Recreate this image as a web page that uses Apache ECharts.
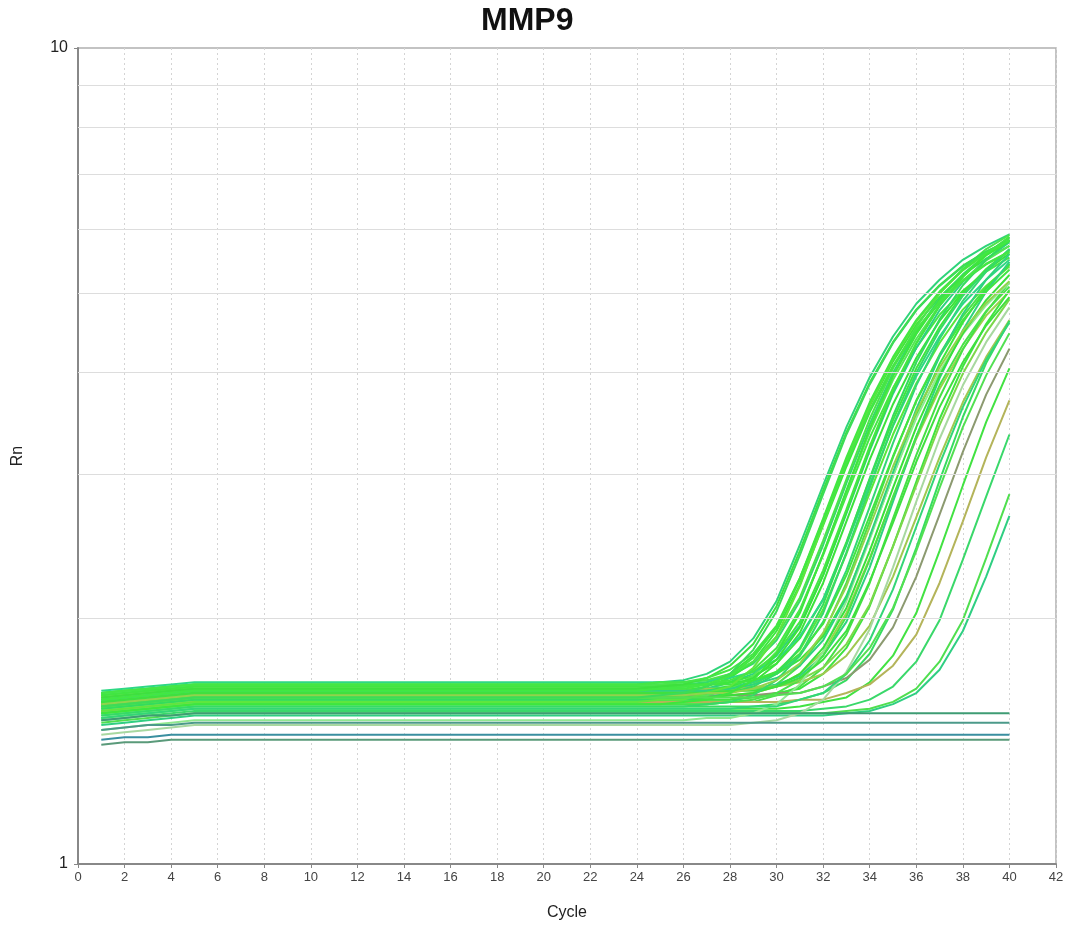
<!DOCTYPE html>
<html>
<head>
<meta charset="utf-8">
<title>MMP9 amplification plot</title>
<script src="https://cdn.jsdelivr.net/npm/echarts@6/dist/echarts.min.js"></script>
<style>
  html, body { margin: 0; padding: 0; background: #ffffff; }
  #chart { width: 1075px; height: 927px; }
</style>
</head>
<body>
<div id="chart"></div>
<script>
// Amplification cycles (x axis)
const cycles = [1,2,3,4,5,6,7,8,9,10,11,12,13,14,15,16,17,18,19,20,
                21,22,23,24,25,26,27,28,29,30,31,32,33,34,35,36,37,38,39,40];

// Tick values
const xTicks = [0,2,4,6,8,10,12,14,16,18,20,22,24,26,28,30,32,34,36,38,40,42];
const rnGridLevels = [2,3,4,5,6,7,8,9];

// Rn per well, cycles 1..40
const rn01 = [1.62,1.63,1.64,1.65,1.66,1.66,1.66,1.66,1.66,1.66,
              1.66,1.66,1.66,1.66,1.66,1.66,1.66,1.66,1.66,1.66,
              1.66,1.66,1.66,1.66,1.67,1.68,1.71,1.77,1.89,2.10,
              2.46,2.91,3.43,3.95,4.43,4.86,5.20,5.50,5.72,5.91];
const rn02 = [1.60,1.61,1.62,1.63,1.64,1.64,1.64,1.64,1.64,1.64,
              1.64,1.64,1.64,1.64,1.64,1.64,1.64,1.64,1.64,1.64,
              1.64,1.64,1.64,1.64,1.65,1.65,1.67,1.71,1.80,1.95,
              2.23,2.64,3.12,3.64,4.13,4.58,4.95,5.27,5.52,5.72];
const rn03 = [1.61,1.62,1.63,1.64,1.65,1.65,1.65,1.65,1.65,1.65,
              1.65,1.65,1.65,1.65,1.65,1.65,1.65,1.65,1.65,1.65,
              1.65,1.65,1.65,1.65,1.65,1.66,1.67,1.70,1.76,1.88,
              2.10,2.46,2.93,3.46,4.00,4.49,4.93,5.28,5.58,5.81];
const rn04 = [1.58,1.59,1.60,1.61,1.62,1.62,1.62,1.62,1.62,1.62,
              1.62,1.62,1.62,1.62,1.62,1.62,1.62,1.62,1.62,1.62,
              1.62,1.62,1.62,1.62,1.62,1.63,1.64,1.67,1.73,1.84,
              2.05,2.39,2.83,3.33,3.83,4.29,4.71,5.04,5.32,5.54];
const rn05 = [1.56,1.57,1.58,1.59,1.60,1.60,1.60,1.60,1.60,1.60,
              1.60,1.60,1.60,1.60,1.60,1.60,1.60,1.60,1.60,1.60,
              1.60,1.60,1.60,1.60,1.60,1.61,1.61,1.64,1.67,1.76,
              1.92,2.21,2.63,3.13,3.66,4.17,4.63,5.02,5.34,5.60];
const rn06 = [1.59,1.60,1.61,1.62,1.63,1.63,1.63,1.63,1.63,1.63,
              1.63,1.63,1.63,1.63,1.63,1.63,1.63,1.63,1.63,1.63,
              1.63,1.63,1.63,1.63,1.63,1.64,1.64,1.67,1.71,1.80,
              1.96,2.26,2.69,3.21,3.77,4.29,4.77,5.17,5.51,5.78];
const rn07 = [1.57,1.58,1.59,1.60,1.61,1.61,1.61,1.61,1.61,1.61,
              1.61,1.61,1.61,1.61,1.61,1.61,1.61,1.61,1.61,1.61,
              1.61,1.61,1.61,1.61,1.61,1.61,1.62,1.63,1.66,1.72,
              1.83,2.05,2.40,2.85,3.36,3.88,4.35,4.78,5.11,5.40];
const rn08 = [1.61,1.62,1.63,1.64,1.65,1.65,1.65,1.65,1.65,1.65,
              1.65,1.65,1.65,1.65,1.65,1.65,1.65,1.65,1.65,1.65,
              1.65,1.65,1.65,1.65,1.65,1.65,1.66,1.67,1.70,1.76,
              1.89,2.11,2.48,2.96,3.50,4.05,4.55,5.00,5.36,5.66];
const rn09 = [1.54,1.55,1.56,1.57,1.58,1.58,1.58,1.58,1.58,1.58,
              1.58,1.58,1.58,1.58,1.58,1.58,1.58,1.58,1.58,1.58,
              1.58,1.58,1.58,1.58,1.58,1.58,1.59,1.59,1.62,1.66,
              1.75,1.91,2.21,2.63,3.15,3.70,4.21,4.69,5.09,5.42];
const rn10 = [1.59,1.60,1.61,1.62,1.63,1.63,1.63,1.63,1.63,1.63,
              1.63,1.63,1.63,1.63,1.63,1.63,1.63,1.63,1.63,1.63,
              1.63,1.63,1.63,1.63,1.63,1.63,1.64,1.65,1.67,1.71,
              1.80,1.98,2.29,2.74,3.28,3.86,4.40,4.90,5.32,5.67];
const rn11 = [1.56,1.57,1.58,1.59,1.60,1.60,1.60,1.60,1.60,1.60,
              1.60,1.60,1.60,1.60,1.60,1.60,1.60,1.60,1.60,1.60,
              1.60,1.60,1.60,1.60,1.60,1.60,1.60,1.61,1.62,1.65,
              1.71,1.82,2.03,2.37,2.81,3.32,3.82,4.28,4.70,5.03];
const rn12 = [1.62,1.63,1.64,1.65,1.66,1.66,1.66,1.66,1.66,1.66,
              1.66,1.66,1.66,1.66,1.66,1.66,1.66,1.66,1.66,1.66,
              1.66,1.66,1.66,1.66,1.66,1.66,1.66,1.67,1.68,1.71,
              1.78,1.90,2.13,2.51,2.99,3.55,4.10,4.61,5.07,5.44];
const rn13 = [1.53,1.54,1.55,1.56,1.57,1.57,1.57,1.57,1.57,1.57,
              1.57,1.57,1.57,1.57,1.57,1.57,1.57,1.57,1.57,1.57,
              1.57,1.57,1.57,1.57,1.57,1.57,1.57,1.58,1.58,1.61,
              1.65,1.74,1.91,2.21,2.65,3.17,3.73,4.27,4.75,5.16];
const rn14 = [1.58,1.59,1.60,1.61,1.62,1.62,1.62,1.62,1.62,1.62,
              1.62,1.62,1.62,1.62,1.62,1.62,1.62,1.62,1.62,1.62,
              1.62,1.62,1.62,1.62,1.62,1.62,1.62,1.63,1.64,1.66,
              1.70,1.80,1.98,2.31,2.78,3.34,3.94,4.51,5.03,5.47];
const rn15 = [1.55,1.56,1.57,1.58,1.59,1.59,1.59,1.59,1.59,1.59,
              1.59,1.59,1.59,1.59,1.59,1.59,1.59,1.59,1.59,1.59,
              1.59,1.59,1.59,1.59,1.59,1.59,1.59,1.59,1.60,1.62,
              1.64,1.71,1.84,2.07,2.45,2.94,3.51,4.07,4.59,5.05];
const rn16 = [1.60,1.61,1.62,1.63,1.64,1.64,1.64,1.64,1.64,1.64,
              1.64,1.64,1.64,1.64,1.64,1.64,1.64,1.64,1.64,1.64,
              1.64,1.64,1.64,1.64,1.64,1.64,1.64,1.64,1.65,1.65,
              1.67,1.71,1.80,1.96,2.25,2.66,3.15,3.68,4.18,4.64];
const rn17 = [1.52,1.53,1.54,1.55,1.56,1.56,1.56,1.56,1.56,1.56,
              1.56,1.56,1.56,1.56,1.56,1.56,1.56,1.56,1.56,1.56,
              1.56,1.56,1.56,1.56,1.56,1.56,1.56,1.56,1.56,1.57,
              1.59,1.62,1.68,1.81,2.05,2.44,2.95,3.53,4.11,4.63];
const rn18 = [1.57,1.58,1.59,1.60,1.61,1.61,1.61,1.61,1.61,1.61,
              1.61,1.61,1.61,1.61,1.61,1.61,1.61,1.61,1.61,1.61,
              1.61,1.61,1.61,1.61,1.61,1.61,1.61,1.61,1.61,1.62,
              1.62,1.65,1.69,1.78,1.95,2.25,2.68,3.20,3.76,4.28];
const rn19 = [1.51,1.52,1.53,1.54,1.55,1.55,1.55,1.55,1.55,1.55,
              1.55,1.55,1.55,1.55,1.55,1.55,1.55,1.55,1.55,1.55,
              1.55,1.55,1.55,1.55,1.55,1.55,1.55,1.55,1.55,1.55,
              1.56,1.58,1.60,1.67,1.80,2.03,2.42,2.91,3.48,4.05];
const rn20 = [1.54,1.55,1.56,1.57,1.58,1.58,1.58,1.58,1.58,1.58,
              1.58,1.58,1.58,1.58,1.58,1.58,1.58,1.58,1.58,1.58,
              1.58,1.58,1.58,1.58,1.58,1.58,1.58,1.58,1.58,1.58,
              1.59,1.59,1.62,1.66,1.75,1.91,2.21,2.63,3.15,3.70];
const rn21 = [1.50,1.51,1.52,1.53,1.54,1.54,1.54,1.54,1.54,1.54,
              1.54,1.54,1.54,1.54,1.54,1.54,1.54,1.54,1.54,1.54,
              1.54,1.54,1.54,1.54,1.54,1.54,1.54,1.54,1.54,1.54,
              1.54,1.55,1.56,1.59,1.65,1.77,1.99,2.36,2.82,3.36];
const rn22 = [1.49,1.50,1.51,1.52,1.53,1.53,1.53,1.53,1.53,1.53,
              1.53,1.53,1.53,1.53,1.53,1.53,1.53,1.53,1.53,1.53,
              1.53,1.53,1.53,1.53,1.53,1.53,1.53,1.53,1.53,1.53,
              1.53,1.53,1.54,1.55,1.58,1.64,1.77,1.99,2.37,2.84];
const rn23 = [1.48,1.49,1.50,1.51,1.52,1.52,1.52,1.52,1.52,1.52,
              1.52,1.52,1.52,1.52,1.52,1.52,1.52,1.52,1.52,1.52,
              1.52,1.52,1.52,1.52,1.52,1.52,1.52,1.52,1.52,1.52,
              1.52,1.52,1.53,1.54,1.57,1.62,1.73,1.93,2.25,2.67];
const rn24 = [1.58,1.59,1.60,1.61,1.62,1.62,1.62,1.62,1.62,1.62,
              1.62,1.62,1.62,1.62,1.62,1.62,1.62,1.62,1.62,1.62,
              1.62,1.62,1.62,1.62,1.63,1.63,1.65,1.69,1.77,1.93,
              2.20,2.60,3.07,3.58,4.06,4.50,4.87,5.18,5.43,5.63];
const rn25 = [1.55,1.56,1.57,1.58,1.59,1.59,1.59,1.59,1.59,1.59,
              1.59,1.59,1.59,1.59,1.59,1.59,1.59,1.59,1.59,1.59,
              1.59,1.59,1.59,1.59,1.59,1.60,1.61,1.64,1.70,1.82,
              2.04,2.40,2.86,3.39,3.92,4.40,4.84,5.19,5.49,5.72];
const rn26 = [1.63,1.64,1.65,1.66,1.67,1.67,1.67,1.67,1.67,1.67,
              1.67,1.67,1.67,1.67,1.67,1.67,1.67,1.67,1.67,1.67,
              1.67,1.67,1.67,1.67,1.67,1.67,1.68,1.69,1.72,1.78,
              1.90,2.11,2.46,2.92,3.44,3.96,4.43,4.86,5.20,5.50];
const rn27 = [1.53,1.54,1.55,1.56,1.57,1.57,1.57,1.57,1.57,1.57,
              1.57,1.57,1.57,1.57,1.57,1.57,1.57,1.57,1.57,1.57,
              1.57,1.57,1.57,1.57,1.57,1.57,1.57,1.58,1.59,1.62,
              1.68,1.80,2.01,2.36,2.82,3.34,3.86,4.33,4.76,5.10];
const rn28 = [1.59,1.60,1.61,1.62,1.63,1.63,1.63,1.63,1.63,1.63,
              1.63,1.63,1.63,1.63,1.63,1.63,1.63,1.63,1.63,1.63,
              1.63,1.63,1.63,1.63,1.63,1.63,1.63,1.63,1.64,1.65,
              1.68,1.74,1.86,2.08,2.45,2.91,3.45,3.99,4.48,4.92];
const rn29 = [1.46,1.47,1.48,1.49,1.50,1.50,1.50,1.50,1.50,1.50,
              1.50,1.50,1.50,1.50,1.50,1.50,1.50,1.50,1.50,1.50,
              1.50,1.50,1.50,1.50,1.50,1.50,1.51,1.51,1.53,1.57,
              1.66,1.82,2.10,2.50,2.99,3.52,4.01,4.46,4.84,5.16];
const rn30 = [1.44,1.45,1.46,1.47,1.48,1.48,1.48,1.48,1.48,1.48,
              1.48,1.48,1.48,1.48,1.48,1.48,1.48,1.48,1.48,1.48,
              1.48,1.48,1.48,1.48,1.48,1.48,1.48,1.48,1.49,1.50,
              1.53,1.59,1.72,1.94,2.31,2.78,3.32,3.86,4.36,4.81];
const rn31 = [1.57,1.58,1.59,1.60,1.61,1.61,1.61,1.61,1.61,1.61,
              1.61,1.61,1.61,1.61,1.61,1.61,1.61,1.61,1.61,1.61,
              1.61,1.61,1.61,1.61,1.61,1.62,1.63,1.65,1.69,1.78,
              1.95,2.26,2.70,3.23,3.80,4.34,4.83,5.24,5.59,5.86];
const rn32 = [1.61,1.62,1.63,1.64,1.65,1.65,1.65,1.65,1.65,1.65,
              1.65,1.65,1.65,1.65,1.65,1.65,1.65,1.65,1.65,1.65,
              1.65,1.65,1.65,1.65,1.65,1.65,1.66,1.66,1.68,1.72,
              1.81,1.97,2.26,2.67,3.16,3.69,4.19,4.64,5.03,5.35];
const rn33 = [1.55,1.56,1.57,1.58,1.59,1.59,1.59,1.59,1.59,1.59,
              1.59,1.59,1.59,1.59,1.59,1.59,1.59,1.59,1.59,1.59,
              1.59,1.59,1.59,1.59,1.59,1.59,1.60,1.62,1.65,1.71,
              1.84,2.08,2.47,2.97,3.54,4.12,4.65,5.12,5.50,5.82];
const rn34 = [1.62,1.63,1.64,1.65,1.66,1.66,1.66,1.66,1.66,1.66,
              1.66,1.66,1.66,1.66,1.66,1.66,1.66,1.66,1.66,1.66,
              1.66,1.66,1.66,1.66,1.66,1.67,1.68,1.71,1.77,1.90,
              2.12,2.49,2.96,3.51,4.05,4.55,5.00,5.36,5.67,5.90];
const rn35 = [1.56,1.57,1.58,1.59,1.60,1.60,1.60,1.60,1.60,1.60,
              1.60,1.60,1.60,1.60,1.60,1.60,1.60,1.60,1.60,1.60,
              1.60,1.60,1.60,1.60,1.60,1.60,1.60,1.61,1.62,1.65,
              1.71,1.84,2.06,2.42,2.89,3.43,3.97,4.47,4.91,5.27];
const rn36 = [1.59,1.60,1.61,1.62,1.63,1.63,1.63,1.63,1.63,1.63,
              1.63,1.63,1.63,1.63,1.63,1.63,1.63,1.63,1.63,1.63,
              1.63,1.63,1.63,1.63,1.63,1.63,1.63,1.64,1.66,1.69,
              1.75,1.88,2.12,2.52,3.02,3.61,4.19,4.72,5.20,5.59];
const rn37 = [1.54,1.55,1.56,1.57,1.58,1.58,1.58,1.58,1.58,1.58,
              1.58,1.58,1.58,1.58,1.58,1.58,1.58,1.58,1.58,1.58,
              1.58,1.58,1.58,1.58,1.59,1.59,1.62,1.65,1.74,1.90,
              2.19,2.61,3.11,3.65,4.16,4.62,5.01,5.34,5.60,5.81];
const rn38 = [1.58,1.59,1.60,1.61,1.62,1.62,1.62,1.62,1.62,1.62,
              1.62,1.62,1.62,1.62,1.62,1.62,1.62,1.62,1.62,1.62,
              1.62,1.62,1.62,1.62,1.62,1.62,1.62,1.63,1.63,1.65,
              1.69,1.78,1.93,2.22,2.62,3.11,3.63,4.12,4.57,4.95];
const rn39 = [1.52,1.53,1.54,1.55,1.56,1.56,1.56,1.56,1.56,1.56,
              1.56,1.56,1.56,1.56,1.56,1.56,1.56,1.56,1.56,1.56,
              1.56,1.56,1.56,1.56,1.56,1.56,1.57,1.58,1.61,1.68,
              1.80,2.03,2.41,2.89,3.45,4.00,4.51,4.97,5.34,5.65];
const rn40 = [1.60,1.61,1.62,1.63,1.64,1.64,1.64,1.64,1.64,1.64,
              1.64,1.64,1.64,1.64,1.64,1.64,1.64,1.64,1.64,1.64,
              1.64,1.64,1.64,1.64,1.64,1.65,1.66,1.68,1.72,1.81,
              1.98,2.29,2.72,3.25,3.82,4.35,4.84,5.25,5.59,5.87];
const rn41 = [1.57,1.58,1.59,1.60,1.61,1.61,1.61,1.61,1.61,1.61,
              1.61,1.61,1.61,1.61,1.61,1.61,1.61,1.61,1.61,1.61,
              1.61,1.61,1.61,1.61,1.61,1.61,1.62,1.62,1.64,1.68,
              1.76,1.92,2.19,2.59,3.07,3.58,4.06,4.50,4.87,5.18];
const rn42 = [1.53,1.54,1.55,1.56,1.57,1.57,1.57,1.57,1.57,1.57,
              1.57,1.57,1.57,1.57,1.57,1.57,1.57,1.57,1.57,1.57,
              1.57,1.57,1.57,1.57,1.57,1.58,1.59,1.62,1.68,1.81,
              2.03,2.40,2.87,3.42,3.96,4.46,4.91,5.26,5.57,5.80];
const rn43 = [1.51,1.52,1.53,1.54,1.55,1.55,1.55,1.55,1.55,1.55,
              1.55,1.55,1.55,1.55,1.55,1.55,1.55,1.55,1.55,1.55,
              1.55,1.55,1.55,1.55,1.55,1.55,1.55,1.55,1.56,1.56,
              1.59,1.62,1.71,1.88,2.17,2.59,3.09,3.63,4.15,4.61];
const rn44 = [1.56,1.57,1.58,1.59,1.60,1.60,1.60,1.60,1.60,1.60,
              1.60,1.60,1.60,1.60,1.60,1.60,1.60,1.60,1.60,1.60,
              1.60,1.60,1.60,1.60,1.60,1.60,1.60,1.60,1.60,1.61,
              1.62,1.65,1.71,1.84,2.06,2.42,2.89,3.43,3.97,4.47];
const rn45 = [1.60,1.61,1.62,1.63,1.64,1.64,1.64,1.64,1.64,1.64,
              1.64,1.64,1.64,1.64,1.64,1.64,1.64,1.64,1.64,1.64,
              1.64,1.64,1.64,1.64,1.65,1.66,1.69,1.75,1.86,2.07,
              2.42,2.87,3.38,3.89,4.36,4.78,5.12,5.41,5.63,5.81];
const rn46 = [1.62,1.63,1.64,1.65,1.66,1.66,1.66,1.66,1.66,1.66,
              1.66,1.66,1.66,1.66,1.66,1.66,1.66,1.66,1.66,1.66,
              1.66,1.66,1.66,1.66,1.67,1.67,1.69,1.73,1.81,1.96,
              2.24,2.63,3.10,3.60,4.08,4.52,4.89,5.19,5.44,5.63];
const rn47 = [1.56,1.57,1.58,1.59,1.60,1.60,1.60,1.60,1.60,1.60,
              1.60,1.60,1.60,1.60,1.60,1.60,1.60,1.60,1.60,1.60,
              1.60,1.60,1.60,1.60,1.61,1.62,1.65,1.71,1.83,2.04,
              2.39,2.84,3.36,3.87,4.35,4.77,5.11,5.40,5.63,5.81];
const rn48 = [1.59,1.60,1.61,1.62,1.63,1.63,1.63,1.63,1.63,1.63,
              1.63,1.63,1.63,1.63,1.63,1.63,1.63,1.63,1.63,1.63,
              1.63,1.63,1.63,1.63,1.64,1.64,1.66,1.70,1.79,1.95,
              2.24,2.65,3.15,3.68,4.18,4.64,5.03,5.35,5.61,5.81];
// Wells without amplification
const rn49 = [1.50,1.51,1.52,1.52,1.53,1.53,1.53,1.53,1.53,1.53,
              1.53,1.53,1.53,1.53,1.53,1.53,1.53,1.53,1.53,1.53,
              1.53,1.53,1.53,1.53,1.53,1.53,1.53,1.53,1.53,1.53,
              1.53,1.53,1.53,1.53,1.53,1.53,1.53,1.53,1.53,1.53];
const rn50 = [1.46,1.47,1.48,1.48,1.49,1.49,1.49,1.49,1.49,1.49,
              1.49,1.49,1.49,1.49,1.49,1.49,1.49,1.49,1.49,1.49,
              1.49,1.49,1.49,1.49,1.49,1.49,1.49,1.49,1.49,1.49,
              1.49,1.49,1.49,1.49,1.49,1.49,1.49,1.49,1.49,1.49];
const rn51 = [1.42,1.43,1.43,1.44,1.44,1.44,1.44,1.44,1.44,1.44,
              1.44,1.44,1.44,1.44,1.44,1.44,1.44,1.44,1.44,1.44,
              1.44,1.44,1.44,1.44,1.44,1.44,1.44,1.44,1.44,1.44,
              1.44,1.44,1.44,1.44,1.44,1.44,1.44,1.44,1.44,1.44];
const rn52 = [1.40,1.41,1.41,1.42,1.42,1.42,1.42,1.42,1.42,1.42,
              1.42,1.42,1.42,1.42,1.42,1.42,1.42,1.42,1.42,1.42,
              1.42,1.42,1.42,1.42,1.42,1.42,1.42,1.42,1.42,1.42,
              1.42,1.42,1.42,1.42,1.42,1.42,1.42,1.42,1.42,1.42];

const wells = [rn01,rn02,rn03,rn04,rn05,rn06,rn07,rn08,rn09,rn10,
               rn11,rn12,rn13,rn14,rn15,rn16,rn17,rn18,rn19,rn20,
               rn21,rn22,rn23,rn24,rn25,rn26,rn27,rn28,rn29,rn30,
               rn31,rn32,rn33,rn34,rn35,rn36,rn37,rn38,rn39,rn40,
               rn41,rn42,rn43,rn44,rn45,rn46,rn47,rn48,
               rn49,rn50,rn51,rn52];

// Trace colours, one per well
const wellColors = ['#2fd47a','#3de43d','#36d96a','#44e844','#3be23b','#2fd080','#58e83a','#3ee63e','#4ae04a','#33d873',
                    '#9ad24a','#3ce83c','#46e046','#30d27e','#3fe43f','#a0c850','#37dc60','#8c9a70','#42e242','#b4b45a',
                    '#3ad86a','#4fdf4f','#2fcf82','#3be83b','#55e655','#2ed884','#48e248','#7bd84a','#90e890','#a8d8a0',
                    '#3ae33a','#41e541','#34dc5c','#4be44b','#39e039','#2fd37c','#5ee63e','#3fe03f','#36da66','#44e644',
                    '#8fd44c','#3de63d','#33d676','#52e052','#3ee03e','#45e645','#3cdc58','#42e842',
                    '#3f9c74','#4c9a8a','#3a8fa0','#5a9a7a'];

const chart = echarts.init(document.getElementById('chart'), null, { renderer: 'canvas' });

const traceSeries = wells.map((vals, i) => ({
  type: 'line',
  data: cycles.map((c, k) => [c, vals[k]]),
  showSymbol: false,
  symbol: 'none',
  silent: true,
  smooth: false,
  lineStyle: { width: 2, color: wellColors[i] },
  z: 3
}));

// Horizontal log grid lines at 2..9
const gridSeries = {
  type: 'line',
  data: [[0, 1]],
  symbol: 'none',
  silent: true,
  lineStyle: { opacity: 0 },
  z: 1,
  markLine: {
    silent: true,
    symbol: 'none',
    animation: false,
    label: { show: false },
    lineStyle: { color: '#dddddd', type: 'solid', width: 1.2 },
    data: rnGridLevels.map(v => ({ yAxis: v }))
  }
};

chart.setOption({
  animation: false,
  backgroundColor: '#ffffff',
  title: {
    text: 'MMP9',
    left: 481,
    top: 5,
    padding: 0,
    textStyle: { fontFamily: 'Liberation Sans, Arial, sans-serif', fontSize: 32, fontWeight: 'bold', color: '#111111' }
  },
  grid: {
    left: 78, right: 19, top: 48, bottom: 63,
    show: true, borderColor: '#b0b0b0', borderWidth: 1.5, backgroundColor: 'transparent'
  },
  xAxis: {
    type: 'value',
    min: 0, max: 42, interval: 2,
    name: 'Cycle',
    nameLocation: 'middle',
    nameGap: 41,
    nameTextStyle: { fontFamily: 'Liberation Sans, Arial, sans-serif', fontSize: 16, color: '#222' },
    axisLine: { show: true, lineStyle: { color: '#888888', width: 2 } },
    axisTick: { show: true, length: 4, lineStyle: { color: '#888888' } },
    axisLabel: {
      fontFamily: 'Liberation Sans, Arial, sans-serif', fontSize: 13, color: '#444', margin: 7,
      formatter: v => (xTicks.indexOf(v) >= 0 ? String(v) : '')
    },
    splitLine: { show: true, lineStyle: { color: '#d4d4d4', type: [2, 3], width: 1 } }
  },
  yAxis: {
    type: 'log',
    logBase: 10,
    min: 1, max: 10,
    name: 'Rn',
    nameLocation: 'middle',
    nameGap: 52,
    nameTextStyle: { fontFamily: 'Liberation Sans, Arial, sans-serif', fontSize: 16, color: '#222' },
    axisLine: { show: true, lineStyle: { color: '#888888', width: 2 } },
    axisTick: { show: true, length: 4, lineStyle: { color: '#888888' } },
    axisLabel: { fontFamily: 'Liberation Sans, Arial, sans-serif', fontSize: 16, color: '#222', margin: 10 },
    splitLine: { show: false }
  },
  series: [gridSeries].concat(traceSeries)
});
</script>
</body>
</html>
